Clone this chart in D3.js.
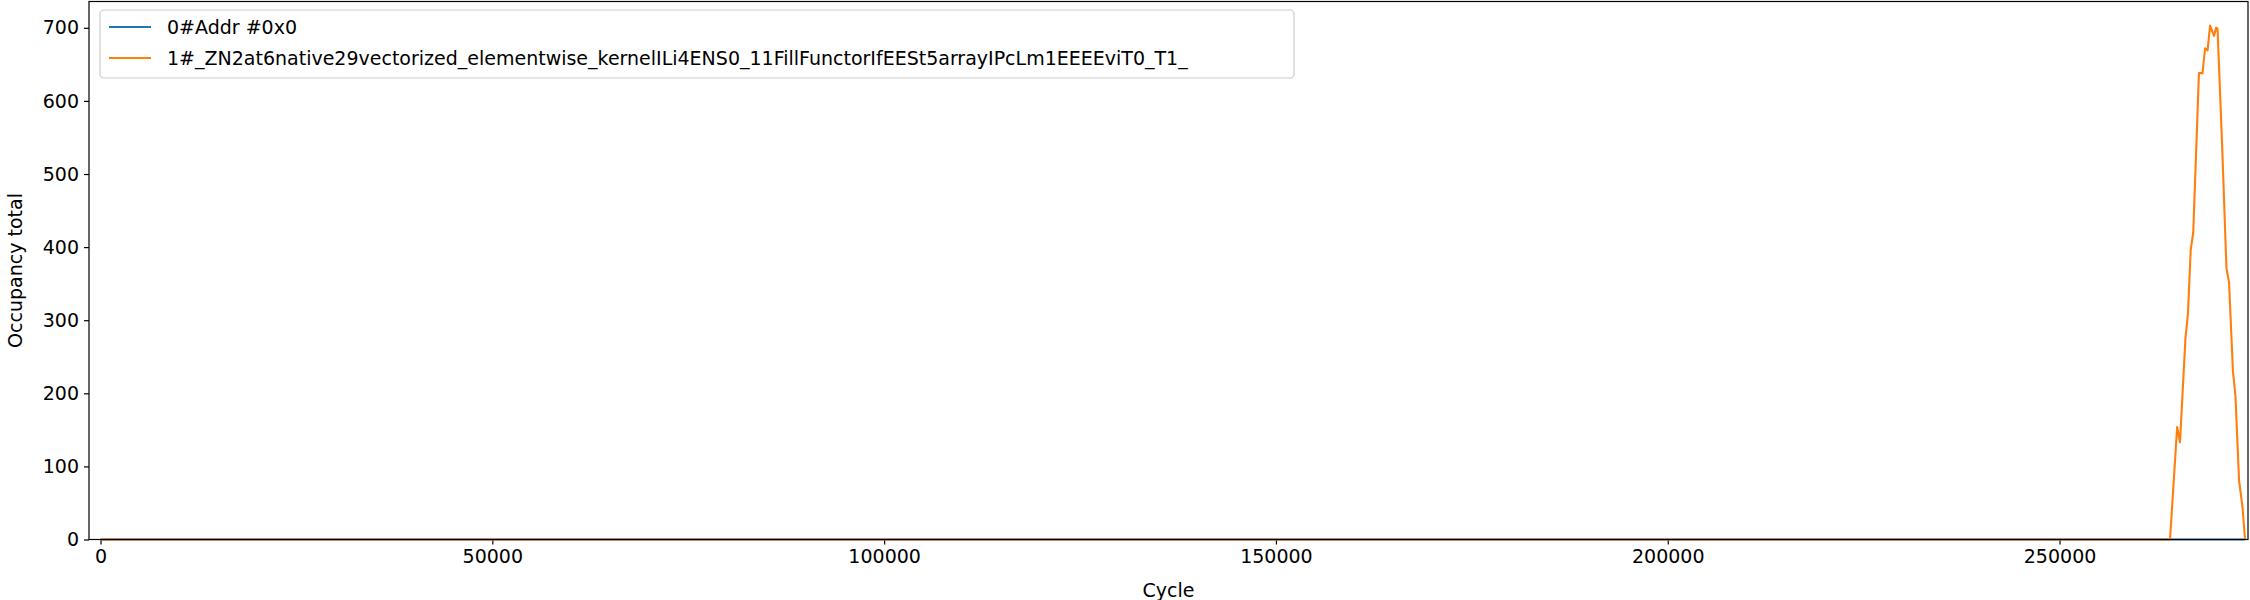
<!DOCTYPE html>
<html><head><meta charset="utf-8">
<script src="https://cdn.jsdelivr.net/npm/d3@7"></script>
<style>body{margin:0;background:#fff}</style></head>
<body><svg id="c" width="2250" height="600"></svg>
<script>
const seriesNames = ["0#Addr #0x0", "1#_ZN2at6native29vectorized_elementwise_kernelILi4ENS0_11FillFunctorIfEESt5arrayIPcLm1EEEEviT0_T1_"];
const colors = ["#1f77b4", "#ff7f0e"];
const blueCycles = [0, 273670];
const blueValues = [0, 0];
const orangeCycles = [0, 264100, 265010, 265370, 266060, 266380, 266740, 267060, 267790, 268250, 268570, 268890, 269210, 269720, 269970, 270160, 270740, 271300, 271630, 272130, 272450, 272910, 273350, 273670];
const orangeValues = [0, 0, 154, 133, 274, 308, 396, 420, 638, 638, 672, 669, 703, 689, 700, 699, 542, 371, 352, 230, 196, 81, 44, 0];
const xTicks = [0, 50000, 100000, 150000, 200000, 250000];
const yTicks = [0, 100, 200, 300, 400, 500, 600, 700];

const svg = d3.select("#c");
const L = 89, R = 2248, T = 1.5, B = 539.5;
const x = d3.scaleLinear().domain([-1470, 274050]).range([L, R]);
const y = d3.scaleLinear().domain([0, 736]).range([B, T]);
const font = "DejaVu Sans, sans-serif";

const xa = svg.append("g").attr("transform", `translate(0,${B})`)
  .call(d3.axisBottom(x).tickValues(xTicks).tickFormat(d3.format("d")).tickSize(5).tickPadding(5));
const ya = svg.append("g").attr("transform", `translate(${L},0)`)
  .call(d3.axisLeft(y).tickValues(yTicks).tickFormat(d3.format("d")).tickSize(5).tickPadding(5));
[xa, ya].forEach(a => { a.selectAll("text").attr("font-family", font).attr("font-size", 19).attr("fill", "#000");
  a.select(".domain").remove(); a.selectAll("line").attr("stroke", "#000").attr("stroke-width", 1.2); });

const line = d3.line().x(d => x(d[0])).y(d => y(d[1]));
const sets = [d3.zip(blueCycles, blueValues), d3.zip(orangeCycles, orangeValues)];
sets.forEach((s, i) => svg.append("path").attr("d", line(s)).attr("fill", "none")
  .attr("stroke", colors[i]).attr("stroke-width", 2.1).attr("stroke-linejoin", "round"));

svg.append("rect").attr("x", L).attr("y", T).attr("width", R - L).attr("height", B - T)
  .attr("fill", "none").attr("stroke", "#000").attr("stroke-width", 1.2);

svg.append("text").attr("x", (L + R) / 2).attr("y", 597).attr("text-anchor", "middle")
  .attr("font-family", font).attr("font-size", 19).text("Cycle");
svg.append("text").attr("transform", `translate(22,${(T + B) / 2}) rotate(-90)`).attr("text-anchor", "middle")
  .attr("font-family", font).attr("font-size", 19).text("Occupancy total");

const lg = svg.append("g");
lg.append("rect").attr("x", 100).attr("y", 10).attr("width", 1194).attr("height", 68).attr("rx", 4)
  .attr("fill", "#fff").attr("fill-opacity", 0.8).attr("stroke", "#ccc").attr("stroke-width", 1.2);
seriesNames.forEach((n, i) => {
  const yy = 27 + i * 31;
  lg.append("line").attr("x1", 109).attr("x2", 151).attr("y1", yy).attr("y2", yy)
    .attr("stroke", colors[i]).attr("stroke-width", 2.1);
  lg.append("text").attr("x", 167).attr("y", yy + 7).attr("font-family", font).attr("font-size", 19).text(n);
});
</script></body></html>
